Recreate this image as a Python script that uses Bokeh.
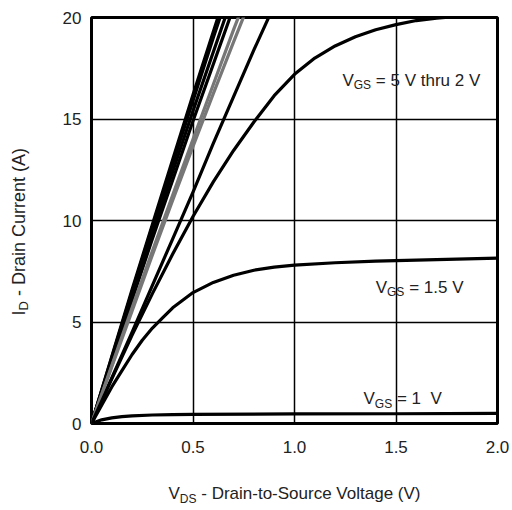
import math

from bokeh.embed import file_html
from bokeh.layouts import column, row
from bokeh.models import FixedTicker, Label, Range1d
from bokeh.plotting import figure
from bokeh.resources import INLINE

FONT = "Liberation Sans"
TEXT_COLOR = "#222222"
NBSP = "\u00a0"

# Output characteristics: drain current (A) vs drain-to-source voltage (V)
vds_lin = [0.0, 0.1, 0.2, 0.3, 0.4, 0.5, 0.6, 0.7, 0.8, 0.9]
id_vgs_5_0 = [0.0, 3.3, 6.6, 9.8, 13.0, 16.2, 19.3, 22.4, 25.4, 28.3]
id_vgs_4_5 = [0.0, 3.25, 6.5, 9.7, 12.8, 15.9, 19.0, 22.0, 24.9, 27.7]
id_vgs_4_0 = [0.0, 3.15, 6.3, 9.4, 12.4, 15.4, 18.3, 21.2, 24.0, 26.7]
id_vgs_3_5 = [0.0, 3.05, 6.1, 9.1, 12.0, 14.9, 17.7, 20.5, 23.2, 25.8]
id_vgs_3_0 = [0.0, 2.85, 5.7, 8.5, 11.25, 14.0, 16.7, 19.4, 22.0, 24.5]
id_vgs_2_5 = [0.0, 2.8, 5.55, 8.3, 11.0, 13.65, 16.25, 18.8, 21.3, 23.7]
id_vgs_2_25 = [0.0, 2.25, 4.5, 6.8, 9.1, 11.4, 13.8, 16.1, 18.4, 20.6]

vds_2v = [0.0, 0.1, 0.2, 0.3, 0.4, 0.5, 0.6, 0.7, 0.8, 0.9, 1.0,
          1.1, 1.2, 1.3, 1.4, 1.5, 1.6, 1.7, 1.8]
id_vgs_2_0 = [0.0, 2.2, 4.35, 6.4, 8.35, 10.2, 11.9, 13.45, 14.85, 16.15, 17.2,
              18.0, 18.6, 19.05, 19.4, 19.65, 19.85, 19.97, 20.05]

vds_1v5 = [0.0, 0.05, 0.1, 0.15, 0.2, 0.25, 0.3, 0.35, 0.4, 0.5, 0.6, 0.7,
           0.8, 0.9, 1.0, 1.2, 1.4, 1.6, 1.8, 2.0]
id_vgs_1_5 = [0.0, 0.9, 1.8, 2.6, 3.4, 4.1, 4.7, 5.2, 5.7, 6.45, 6.95, 7.3,
              7.55, 7.7, 7.8, 7.92, 8.0, 8.05, 8.1, 8.15]

vds_1v = [0.0, 0.05, 0.1, 0.15, 0.2, 0.3, 0.4, 0.5, 1.0, 1.5, 2.0]
id_vgs_1_0 = [0.0, 0.18, 0.28, 0.34, 0.38, 0.42, 0.44, 0.45, 0.47, 0.48, 0.5]

x_ticks = [0.0, 0.5, 1.0, 1.5, 2.0]
x_tick_labels = ["0.0", "0.5", "1.0", "1.5", "2.0"]
y_ticks = [0, 5, 10, 15, 20]
y_tick_labels = ["0", "5", "10", "15", "20"]

LEFT_W = 58          # width of the strip holding the y-axis title
MAIN_W = 512 - LEFT_W

# ---- main plot -------------------------------------------------------------
p = figure(
    width=MAIN_W, height=465,
    output_backend="svg", toolbar_location=None,
    x_range=Range1d(0, 2), y_range=Range1d(0, 20),
    min_border_left=33, min_border_right=15,
    min_border_top=17, min_border_bottom=42,
    background_fill_color="white", border_fill_color="white",
)
p.outline_line_color = "black"
p.outline_line_width = 3

p.xaxis.ticker = FixedTicker(ticks=x_ticks)
p.yaxis.ticker = FixedTicker(ticks=y_ticks)
p.xaxis.major_label_overrides = {t: s for t, s in zip(x_ticks, x_tick_labels)}
p.yaxis.major_label_overrides = {t: s for t, s in zip(y_ticks, y_tick_labels)}
for ax in (p.xaxis, p.yaxis):
    ax.axis_line_color = None
    ax.major_tick_line_color = None
    ax.minor_tick_line_color = None
    ax.major_tick_out = 0
    ax.major_tick_in = 0
    ax.major_label_text_font = FONT
    ax.major_label_text_font_size = "17px"
    ax.major_label_text_color = TEXT_COLOR
p.xaxis.major_label_standoff = 17
p.yaxis.major_label_standoff = 10

p.xgrid.ticker = FixedTicker(ticks=x_ticks)
p.ygrid.ticker = FixedTicker(ticks=y_ticks)
for g in (p.xgrid, p.ygrid):
    g.grid_line_color = "black"
    g.grid_line_width = 1.5

LW = 3.2
for ys in (id_vgs_5_0, id_vgs_4_5, id_vgs_4_0, id_vgs_3_5, id_vgs_2_25):
    p.line(vds_lin, ys, line_color="black", line_width=LW, line_join="round")
for ys in (id_vgs_3_0, id_vgs_2_5):
    p.line(vds_lin, ys, line_color="#777777", line_width=LW, line_join="round")
p.line(vds_2v, id_vgs_2_0, line_color="black", line_width=LW, line_join="round")
p.line(vds_1v5, id_vgs_1_5, line_color="black", line_width=LW, line_join="round")
p.line(vds_1v, id_vgs_1_0, line_color="black", line_width=LW, line_join="round")


def text_label(fig, x, y, text, size, dx=0.0, dy=0.0, angle=0.0, units="data"):
    fig.add_layout(Label(
        x=x, y=y, x_offset=dx, y_offset=dy, angle=angle, text=text,
        x_units=units, y_units=units,
        text_font=FONT, text_font_size=f"{size}px", text_color=TEXT_COLOR,
        text_baseline="alphabetic", text_align="left",
    ))


def subscript_label(fig, x, y, main, sub, rest, size=17, sub_size=12,
                    main_w=0.667, sub_w=1.445, gap=0.28, units="data"):
    # main letter, lowered subscript, then the remaining text
    text_label(fig, x, y, main, size, units=units)
    text_label(fig, x, y, sub, sub_size, dx=main_w * size, dy=-5, units=units)
    text_label(fig, x, y, rest, size,
               dx=main_w * size + sub_w * sub_size + gap * size, units=units)


subscript_label(p, 1.236, 16.9, "V", "GS", "= 5 V thru 2 V")
subscript_label(p, 1.40, 6.7, "V", "GS", "= 1.5 V")
subscript_label(p, 1.34, 1.23, "V", "GS", "= 1" + NBSP + NBSP + "V")


def title_strip(w, h):
    f = figure(
        width=w, height=h, output_backend="svg", toolbar_location=None,
        x_range=Range1d(0, w), y_range=Range1d(0, h),
        x_axis_type=None, y_axis_type=None, min_border=0,
    )
    f.outline_line_color = None
    f.grid.visible = False
    return f


# ---- x axis title strip ----------------------------------------------------
xt = title_strip(MAIN_W, 45)
subscript_label(xt, 77, 17, "V", "DS", "- Drain-to-Source Voltage (V)",
                size=17, sub_size=12, sub_w=1.389, units="screen")

# ---- y axis title strip ----------------------------------------------------
yt = title_strip(LEFT_W, 510)
ys_size, ys_sub = 18, 13
rot = math.pi / 2
bx, by = 18, 195
text_label(yt, bx, by, "I", ys_size, angle=rot, units="screen")
text_label(yt, bx, by, "D", ys_sub, dx=5, dy=0.278 * ys_size, angle=rot,
           units="screen")
text_label(yt, bx, by, "- Drain Current (A)", ys_size,
           dy=0.278 * ys_size + 0.722 * ys_sub + 0.28 * ys_size, angle=rot,
           units="screen")

layout = row(yt, column(p, xt))

open("out.html", "w").write(file_html(layout, INLINE))
